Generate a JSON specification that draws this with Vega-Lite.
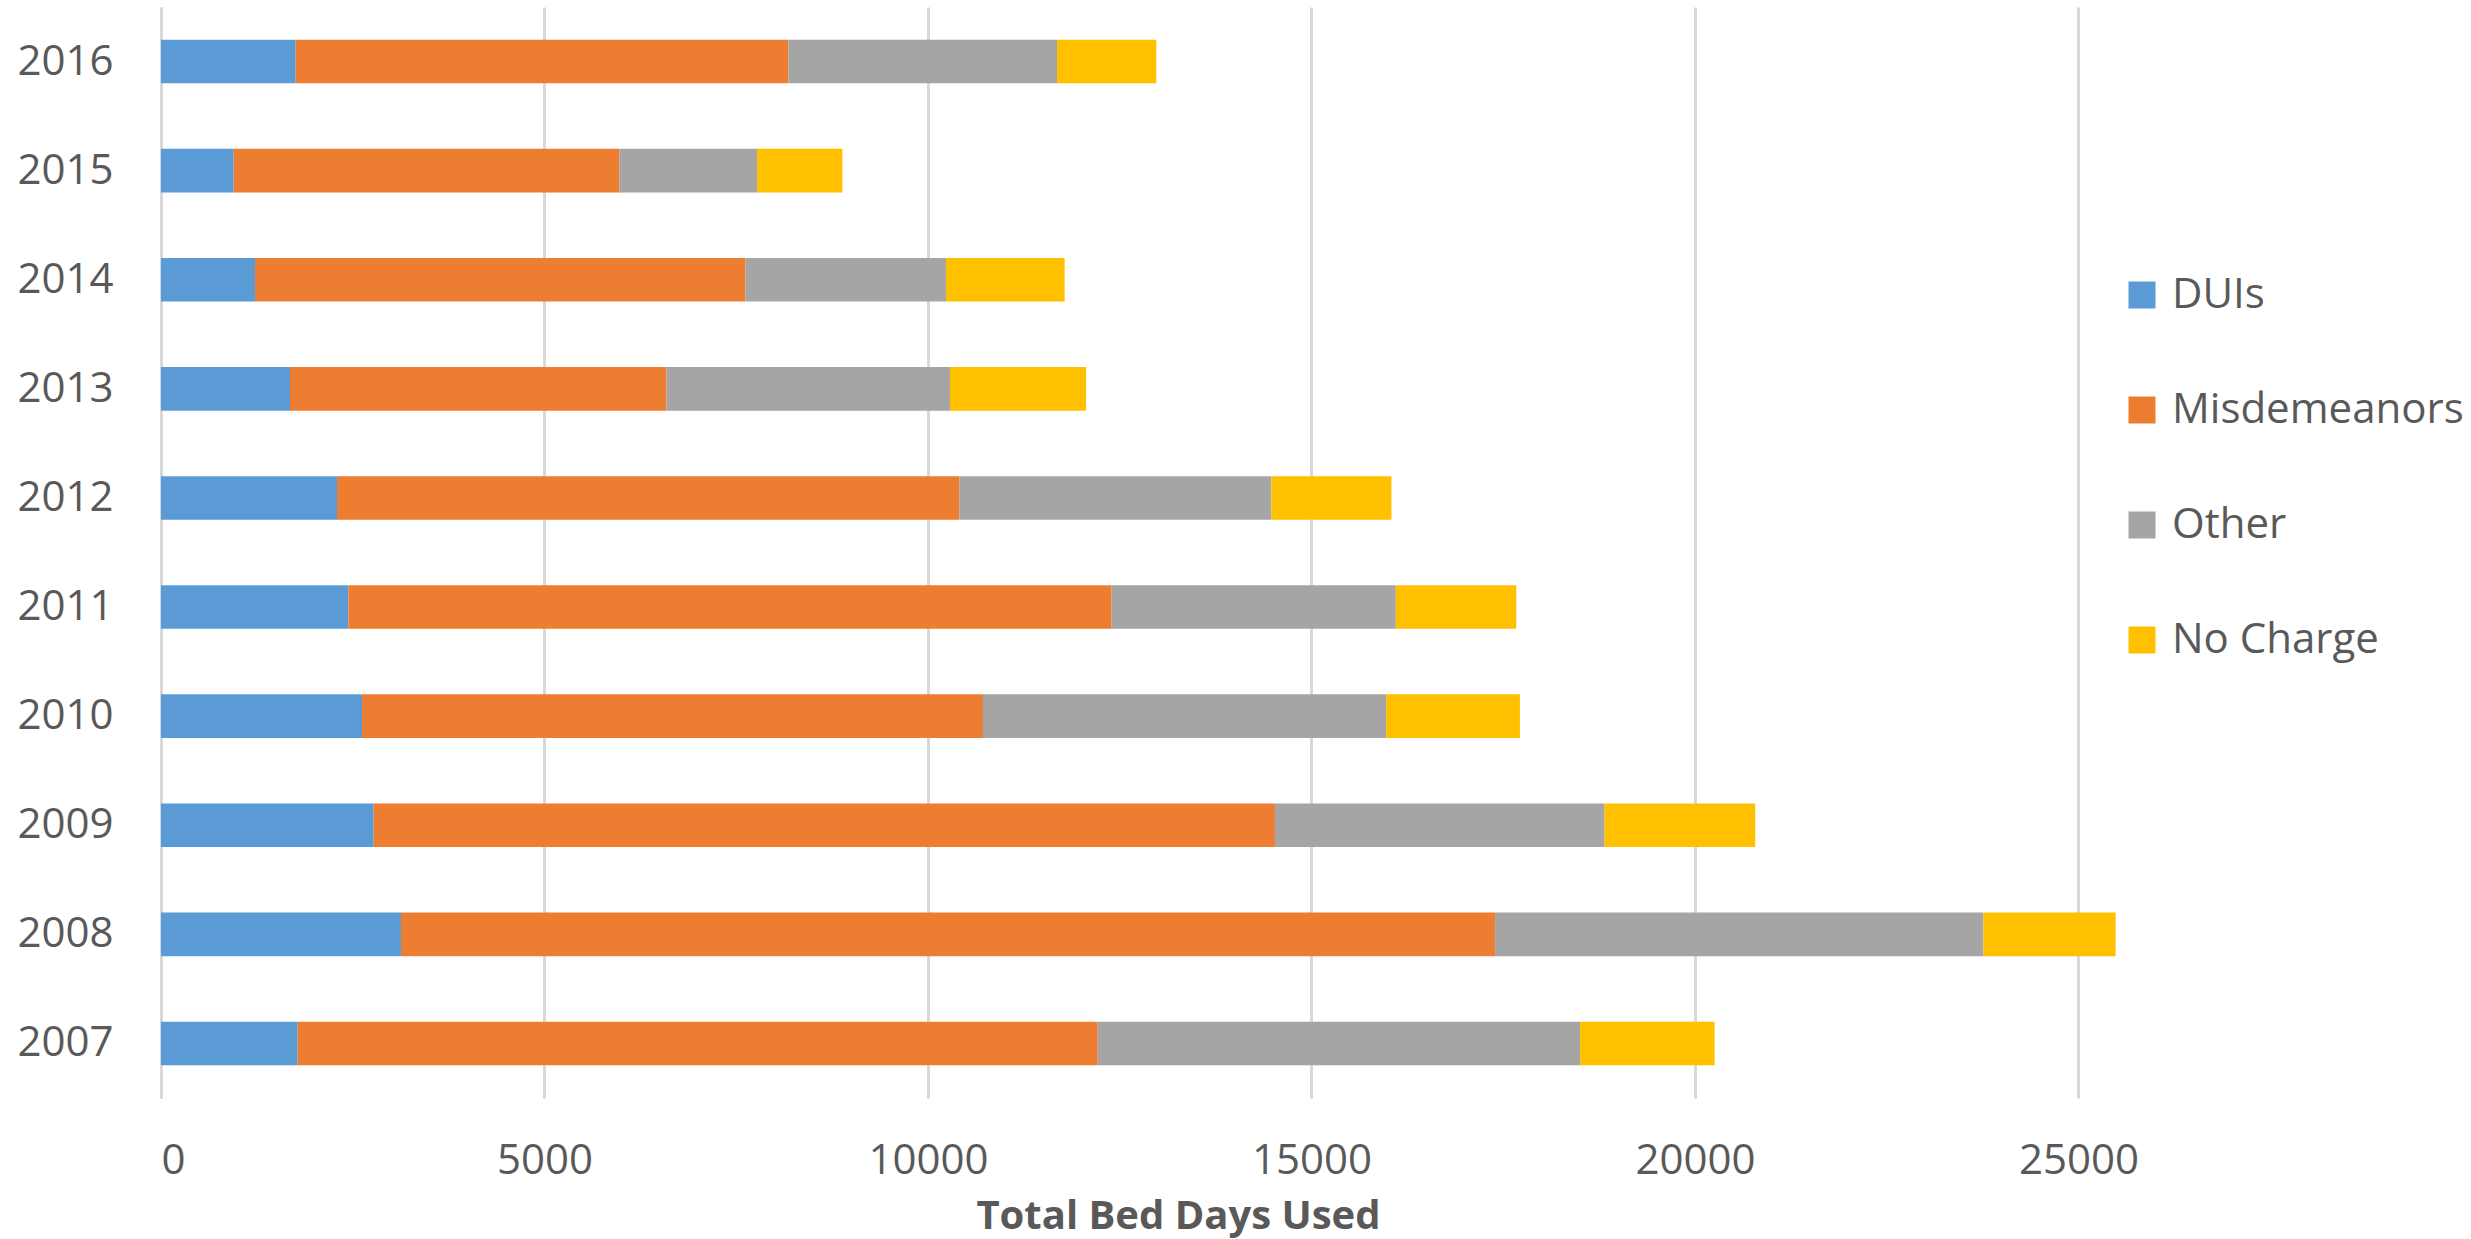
{
  "$schema": "https://vega.github.io/schema/vega-lite/v6.json",
  "autosize": "none",
  "width": 2034,
  "height": 1091,
  "padding": {"left": 161, "top": 7, "right": 276, "bottom": 141},
  "background": "white",
  "datasets": {
    "categories": [
      {"category": "DUIs", "stackRank": 1},
      {"category": "Misdemeanors", "stackRank": 2},
      {"category": "Other", "stackRank": 3},
      {"category": "No Charge", "stackRank": 4}
    ]
  },
  "data": {
    "values": [
      {"year": "2016", "category": "DUIs", "days": 1756},
      {"year": "2016", "category": "Misdemeanors", "days": 6424},
      {"year": "2016", "category": "Other", "days": 3503},
      {"year": "2016", "category": "No Charge", "days": 1294},
      {"year": "2015", "category": "DUIs", "days": 948},
      {"year": "2015", "category": "Misdemeanors", "days": 5029},
      {"year": "2015", "category": "Other", "days": 1795},
      {"year": "2015", "category": "No Charge", "days": 1112},
      {"year": "2014", "category": "DUIs", "days": 1226},
      {"year": "2014", "category": "Misdemeanors", "days": 6395},
      {"year": "2014", "category": "Other", "days": 2614},
      {"year": "2014", "category": "No Charge", "days": 1547},
      {"year": "2013", "category": "DUIs", "days": 1682},
      {"year": "2013", "category": "Misdemeanors", "days": 4910},
      {"year": "2013", "category": "Other", "days": 3695},
      {"year": "2013", "category": "No Charge", "days": 1775},
      {"year": "2012", "category": "DUIs", "days": 2295},
      {"year": "2012", "category": "Misdemeanors", "days": 8114},
      {"year": "2012", "category": "Other", "days": 4068},
      {"year": "2012", "category": "No Charge", "days": 1566},
      {"year": "2011", "category": "DUIs", "days": 2442},
      {"year": "2011", "category": "Misdemeanors", "days": 9952},
      {"year": "2011", "category": "Other", "days": 3706},
      {"year": "2011", "category": "No Charge", "days": 1570},
      {"year": "2010", "category": "DUIs", "days": 2621},
      {"year": "2010", "category": "Misdemeanors", "days": 8096},
      {"year": "2010", "category": "Other", "days": 5257},
      {"year": "2010", "category": "No Charge", "days": 1744},
      {"year": "2009", "category": "DUIs", "days": 2773},
      {"year": "2009", "category": "Misdemeanors", "days": 11751},
      {"year": "2009", "category": "Other", "days": 4297},
      {"year": "2009", "category": "No Charge", "days": 1965},
      {"year": "2008", "category": "DUIs", "days": 3129},
      {"year": "2008", "category": "Misdemeanors", "days": 14265},
      {"year": "2008", "category": "Other", "days": 6367},
      {"year": "2008", "category": "No Charge", "days": 1724},
      {"year": "2007", "category": "DUIs", "days": 1782},
      {"year": "2007", "category": "Misdemeanors", "days": 10432},
      {"year": "2007", "category": "Other", "days": 6289},
      {"year": "2007", "category": "No Charge", "days": 1753}
    ]
  },
  "transform": [
    {"lookup": "category", "from": {"data": {"name": "categories"}, "key": "category", "fields": ["stackRank"]}}
  ],
  "mark": {"type": "bar"},
  "encoding": {
    "y": {
      "field": "year",
      "type": "ordinal",
      "sort": "descending",
      "scale": {"paddingInner": 0.6, "paddingOuter": 0.3},
      "axis": {
        "title": null,
        "ticks": false,
        "labelPadding": 48,
        "labelFont": "Open Sans",
        "labelFontSize": 42,
        "labelColor": "#595959",
        "domainColor": "#d9d9d9",
        "domainWidth": 3,
        "grid": false
      }
    },
    "x": {
      "field": "days",
      "type": "quantitative",
      "stack": "zero",
      "scale": {"domain": [0, 26520], "nice": false},
      "axis": {
        "title": "Total Bed Days Used",
        "values": [0, 5000, 10000, 15000, 20000, 25000],
        "format": "d",
        "ticks": false,
        "domain": false,
        "grid": true,
        "gridColor": "#d9d9d9",
        "gridWidth": 3,
        "labelPadding": 42,
        "labelFont": "Open Sans",
        "labelFontSize": 42,
        "labelColor": "#595959",
        "titleFont": "Open Sans",
        "titleFontSize": 40,
        "titleFontWeight": "bold",
        "titleColor": "#595959",
        "titlePadding": 15
      }
    },
    "color": {
      "field": "category",
      "type": "nominal",
      "sort": ["DUIs", "Misdemeanors", "Other", "No Charge"],
      "scale": {
        "domain": ["DUIs", "Misdemeanors", "Other", "No Charge"],
        "range": ["#5B9BD5", "#ED7D31", "#A5A5A5", "#FFC000"]
      },
      "legend": {
        "title": null,
        "orient": "none",
        "legendX": 1960,
        "legendY": 267,
        "symbolType": "square",
        "symbolSize": 729,
        "symbolStrokeWidth": 0,
        "labelFont": "Open Sans",
        "labelFontSize": 42,
        "labelColor": "#595959",
        "labelOffset": 9,
        "rowPadding": 73,
        "labelLimit": 600,
        "padding": 0
      }
    },
    "order": {"field": "stackRank", "type": "quantitative", "sort": "ascending"}
  },
  "config": {
    "view": {"stroke": null}
  }
}
